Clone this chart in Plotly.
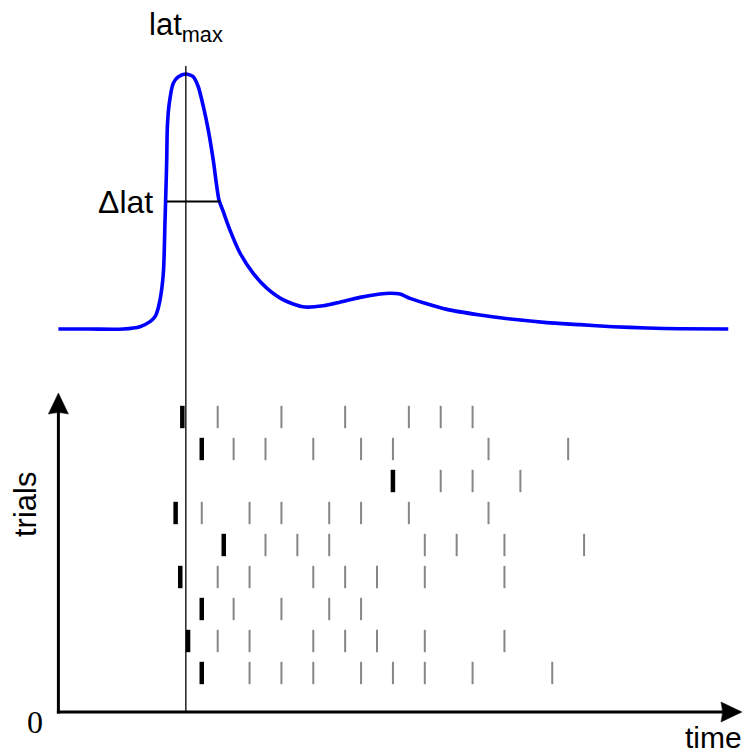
import plotly.graph_objects as go

W, H = 744, 755

# Axis calibration (pixel positions of the data scales inside the figure)
T_ORIGIN_PX = 58.4      # x pixel of time 0
T_SCALE = 15.93         # pixels per time unit
TRIAL_PX0 = 705.0       # y pixel of trial 0
TRIAL_SCALE = 32.0      # pixels per trial row
RATE_PX0 = 329.0        # y pixel of rate 0
RATE_SCALE = 2.55       # pixels per rate unit

# Firing-rate curve (time units, rate in % of peak)
time_pts = [0.0, 1.98, 4.07, 5.12, 5.75, 6.06, 6.17, 6.38, 6.59, 6.69, 6.75, 6.80,
            6.84, 6.96, 7.21, 7.53, 7.99, 8.47, 8.78, 9.10, 9.41, 9.72, 10.08,
            10.31, 10.77, 11.40, 12.23, 13.08, 14.12, 15.37, 16.63, 17.68, 18.93,
            20.19, 20.82, 21.44, 22.07, 22.91, 24.38, 26.46, 28.54, 30.65, 32.74,
            34.81, 36.93, 39.02, 42.05]
rate_pts = [0.0, 0.0, 0.0, 0.9, 2.9, 4.8, 6.2, 11.4, 22.0, 41.6, 54.5, 66.3,
            79.3, 88.5, 96.4, 98.9, 100.0, 98.9, 95.0, 87.2, 78.0, 66.3, 50.6,
            46.7, 38.8, 29.8, 21.8, 16.0, 11.4, 8.7, 9.1, 10.5, 12.4,
            13.7, 14.0, 13.7, 12.0, 10.3, 7.7, 5.5, 3.8, 2.5, 1.7,
            0.9, 0.4, 0.1, 0.0]

# Spike raster, listed from the top trial down
trial_ids = [9, 8, 7, 6, 5, 4, 3, 2, 1]
first_spikes = [7.78, 9.0, 21.0, 7.36, 10.38, 7.65, 9.0, 8.14, 9.0]
later_spikes = [
    [10, 14, 18, 22, 24, 26],
    [11, 13, 16, 19, 21, 27, 32],
    [24, 26, 29],
    [9, 12, 14, 17, 19, 22, 27],
    [13, 15, 17, 23, 25, 28, 33],
    [10, 12, 16, 18, 20, 23, 28],
    [11, 14, 17, 19],
    [10, 12, 16, 18, 20, 23, 28],
    [12, 14, 16, 19, 21, 23, 26, 31],
]

# Latency markers
lat_max = 8.0
half_rate = 50.0
dlat_left, dlat_right = 6.82, 10.14

# Axis extents
time_axis_end = 42.91
trial_axis_top = 9.75
trial_axis_base = -0.21875

BLUE = "#0000ff"
GRAY = "#868686"
SANS = "Liberation Sans"


def px_to_t(px):
    return (px - T_ORIGIN_PX) / T_SCALE


def t_to_px(t):
    return T_ORIGIN_PX + T_SCALE * t


def trial_to_py(k):
    return TRIAL_PX0 - TRIAL_SCALE * k


def py_to_paper(py):
    return 1 - py / H


def arrow_path(tip_x, tip_y, dx, dy, length=21.0, half=10.0, notch=3.0):
    """Filled arrowhead (pixel geometry) pointing along (dx, dy), returned in x/paper coords."""
    nx, ny = -dy, dx
    bx, by = tip_x - dx * length, tip_y - dy * length
    p1 = (bx + nx * half, by + ny * half)
    p2 = (bx - nx * half, by - ny * half)
    mid = (bx + dx * notch, by + dy * notch)

    def fmt(p):
        return f"{px_to_t(p[0]):.5f},{py_to_paper(p[1]):.5f}"

    return (f"M {fmt((tip_x, tip_y))} L {fmt(p1)} Q {fmt(mid)} {fmt(p2)} Z")


fig = go.Figure()

# Raster: later spikes in gray, first spikes in bold black
gx, gy = [], []
for tid, spikes in zip(trial_ids, later_spikes):
    gx += spikes
    gy += [tid] * len(spikes)
fig.add_trace(go.Scatter(
    x=gx, y=gy, mode="markers", yaxis="y",
    marker=dict(symbol="line-ns", size=16, line=dict(width=2, color=GRAY)),
    hoverinfo="skip", showlegend=False))
fig.add_trace(go.Scatter(
    x=first_spikes, y=trial_ids, mode="markers", yaxis="y",
    marker=dict(symbol="line-ns", size=16, line=dict(width=4.5, color="black")),
    hoverinfo="skip", showlegend=False))

# Firing-rate curve
fig.add_trace(go.Scatter(
    x=time_pts, y=rate_pts, mode="lines", yaxis="y2",
    line=dict(color=BLUE, width=3.6, shape="spline", smoothing=0.7),
    hoverinfo="skip", showlegend=False))

# Half-width segment
fig.add_trace(go.Scatter(
    x=[dlat_left, dlat_right], y=[half_rate, half_rate], mode="lines", yaxis="y2",
    line=dict(color="black", width=2),
    hoverinfo="skip", showlegend=False))

# Vertical line at the peak latency
fig.add_shape(type="line", xref="x", yref="paper",
              x0=lat_max, x1=lat_max,
              y0=py_to_paper(712), y1=py_to_paper(66),
              line=dict(color="black", width=1.3))

# Time and trial axes with arrowheads
base_py = trial_to_py(trial_axis_base)
top_py = trial_to_py(trial_axis_top)
end_px = t_to_px(time_axis_end)
fig.add_shape(type="line", xref="x", yref="paper",
              x0=px_to_t(T_ORIGIN_PX - 1.5), x1=px_to_t(end_px - 12),
              y0=py_to_paper(base_py), y1=py_to_paper(base_py),
              line=dict(color="black", width=3))
fig.add_shape(type="line", xref="x", yref="paper",
              x0=0, x1=0,
              y0=py_to_paper(base_py + 1.5), y1=py_to_paper(top_py + 12),
              line=dict(color="black", width=3))
fig.add_shape(type="path", xref="x", yref="paper",
              path=arrow_path(end_px, base_py, 1, 0),
              fillcolor="black", line=dict(color="black", width=0.5))
fig.add_shape(type="path", xref="x", yref="paper",
              path=arrow_path(T_ORIGIN_PX, top_py, 0, -1),
              fillcolor="black", line=dict(color="black", width=0.5))

annotations = [
    dict(x=lat_max, y=py_to_paper(27), xref="x", yref="paper",
         text="lat<sub>max</sub>", showarrow=False, xanchor="center", yanchor="middle",
         font=dict(family=SANS, size=31, color="black")),
    dict(x=px_to_t(155), y=half_rate, xref="x", yref="y2",
         text="Δlat", showarrow=False, xanchor="right", yanchor="middle",
         font=dict(family=SANS, size=32, color="black")),
    dict(x=px_to_t(25), y=py_to_paper(505), xref="x", yref="paper",
         text="trials", textangle=-90, showarrow=False, xanchor="center", yanchor="middle",
         font=dict(family=SANS, size=31, color="black")),
    dict(x=px_to_t(713), y=py_to_paper(737), xref="x", yref="paper",
         text="time", showarrow=False, xanchor="center", yanchor="middle",
         font=dict(family=SANS, size=30, color="black")),
    dict(x=px_to_t(35), y=py_to_paper(722), xref="x", yref="paper",
         text="0", showarrow=False, xanchor="center", yanchor="middle",
         font=dict(family="Liberation Serif", size=32, color="black")),
]

fig.update_layout(
    width=W, height=H,
    margin=dict(l=0, r=0, t=0, b=0),
    paper_bgcolor="white", plot_bgcolor="white",
    xaxis=dict(range=[px_to_t(0), px_to_t(W)], visible=False, fixedrange=True),
    yaxis=dict(range=[(TRIAL_PX0 - H) / TRIAL_SCALE, TRIAL_PX0 / TRIAL_SCALE],
               visible=False, fixedrange=True),
    yaxis2=dict(range=[(RATE_PX0 - H) / RATE_SCALE, RATE_PX0 / RATE_SCALE],
                overlaying="y", visible=False, fixedrange=True),
    annotations=annotations,
    showlegend=False,
)

fig.write_html("out.html", config={"displayModeBar": False})
